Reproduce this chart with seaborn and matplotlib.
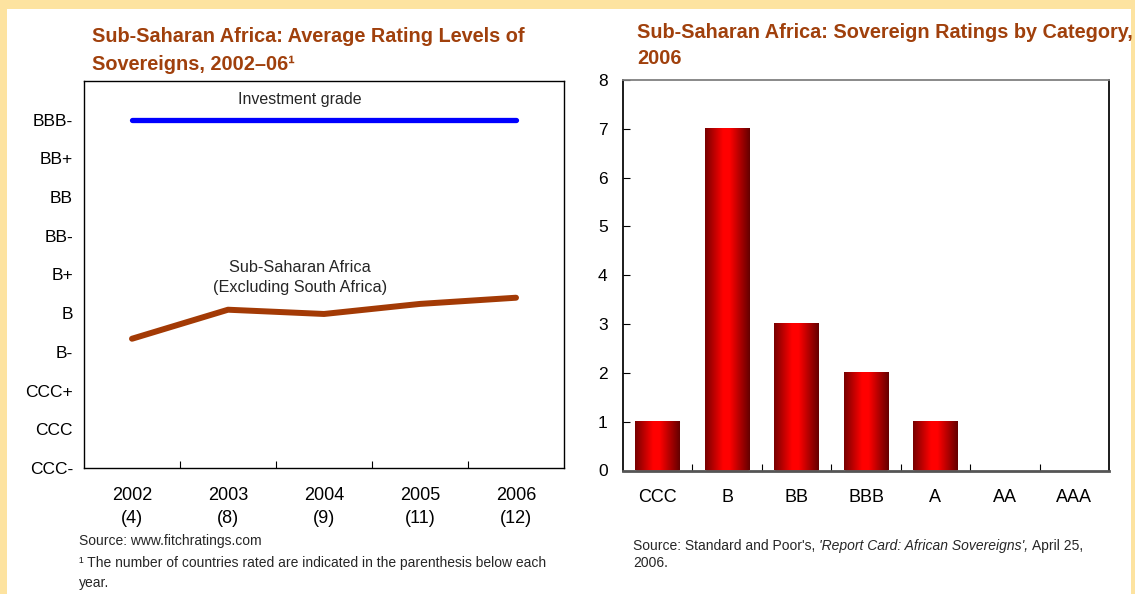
import seaborn as sns
import matplotlib.pyplot as plt
import pandas as pd
import numpy as np
from matplotlib.patches import Rectangle
from matplotlib.colors import LinearSegmentedColormap

# left panel: average rating levels (CCC- = 1 ... BBB- = 10)
years = ['2002', '2003', '2004', '2005', '2006']
n_rated = [4, 8, 9, 11, 12]
ssa_avg = [4.34, 5.09, 4.98, 5.24, 5.40]
invest_grade = [10, 10, 10, 10, 10]
rating_levels = ['CCC-', 'CCC', 'CCC+', 'B-', 'B', 'B+', 'BB-', 'BB', 'BB+', 'BBB-']

# right panel: number of sovereigns by category
categories = ['CCC', 'B', 'BB', 'BBB', 'A', 'AA', 'AAA']
counts = [1, 7, 3, 2, 1, 0, 0]

W, H = 1135, 594
title_col = '#A0400C'

sns.set_theme(style='white')
plt.rcParams['font.family'] = ['Liberation Sans', 'DejaVu Sans']

fig = plt.figure(figsize=(W / 100, H / 100), dpi=100, facecolor='#FDE3A0')
fig.patches.append(Rectangle((7 / W, 0), (1131 - 7) / W, (H - 9) / H,
                             transform=fig.transFigure, facecolor='white',
                             edgecolor='none', zorder=-10))

# ---- left chart
ax1 = fig.add_axes([84 / W, 1 - 468 / H, 480 / W, 387 / H])
df_line = pd.DataFrame({'year': years, 'ssa': ssa_avg, 'ig': invest_grade})
sns.lineplot(data=df_line, x='year', y='ig', color='#0000FF', lw=3.8,
             solid_capstyle='round', ax=ax1)
sns.lineplot(data=df_line, x='year', y='ssa', color='#A33A05', lw=4.3,
             solid_capstyle='round', ax=ax1)
ax1.set_xlim(-0.5, 4.5)
ax1.set_ylim(1, 11)
ax1.set_yticks(range(1, 11), rating_levels)
ax1.set_xticks(range(len(years)), [f'{y}\n({n})' for y, n in zip(years, n_rated)])
ax1.set_xticks([0.5, 1.5, 2.5, 3.5], minor=True)
ax1.tick_params(axis='y', length=0, pad=8, labelsize=12.5, colors='black')
ax1.tick_params(axis='x', which='major', length=0, pad=14, labelsize=13, colors='black')
ax1.tick_params(axis='x', which='minor', direction='in', length=5, width=0.8,
                color='black', bottom=True)
for lab in ax1.get_xticklabels():
    lab.set_linespacing(1.4)
ax1.set_xlabel('')
ax1.set_ylabel('')
for sp in ax1.spines.values():
    sp.set_color('black')
    sp.set_linewidth(1)
ax1.text(1.75, 10.52, 'Investment grade', ha='center', va='center', fontsize=11.5)
ax1.text(1.75, 5.93, 'Sub-Saharan Africa\n(Excluding South Africa)', ha='center',
         va='center', fontsize=11.7, linespacing=1.4)

# ---- right chart
ax2 = fig.add_axes([623 / W, 1 - 470.5 / H, 486 / W, 390.5 / H])
df_bar = pd.DataFrame({'category': categories, 'count': counts})
sns.barplot(data=df_bar, x='category', y='count', color='#FF0000', width=0.64,
            ax=ax2)
cmap = LinearSegmentedColormap.from_list(
    'cyl', [(0, '#780000'), (0.4, '#FF0000'), (0.55, '#FF0000'), (1, '#640000')])
grad = np.linspace(0, 1, 128).reshape(1, -1)
for bar in ax2.patches:
    h = bar.get_height()
    if h > 0:
        x0 = bar.get_x()
        ax2.imshow(grad, extent=(x0, x0 + bar.get_width(), 0, h), aspect='auto',
                   cmap=cmap, zorder=3)
ax2.set_xlim(-0.5, 6.5)
ax2.set_ylim(0, 8)
ax2.set_yticks(range(0, 9))
ax2.set_xticks([0.5, 1.5, 2.5, 3.5, 4.5, 5.5], minor=True)
ax2.tick_params(axis='y', left=True, direction='in', length=5, width=0.8,
                pad=11, labelsize=12.5, colors='black')
ax2.tick_params(axis='x', which='major', length=0, pad=13, labelsize=13,
                colors='black')
ax2.tick_params(axis='x', which='minor', direction='in', length=5, width=0.8,
                color='black', bottom=True)
ax2.set_xlabel('')
ax2.set_ylabel('')
ax2.spines['left'].set_color('black')
ax2.spines['right'].set_color('black')
ax2.spines['top'].set_color('#808080')
ax2.spines['top'].set_linewidth(1.3)
ax2.spines['bottom'].set_color('#555555')
ax2.spines['bottom'].set_linewidth(2)

# ---- titles and notes
fig.text(92 / W, 1 - 37 / H, 'Sub-Saharan Africa: Average Rating Levels of',
         fontsize=14.3, weight='bold', color=title_col, va='center')
fig.text(92 / W, 1 - 64 / H, 'Sovereigns, 2002\u201306\u00b9',
         fontsize=14.3, weight='bold', color=title_col, va='center')
fig.text(637 / W, 1 - 33 / H, 'Sub-Saharan Africa: Sovereign Ratings by Category,',
         fontsize=14.3, weight='bold', color=title_col, va='center')
fig.text(637 / W, 1 - 58 / H, '2006',
         fontsize=14.3, weight='bold', color=title_col, va='center')

fs_note = 10
fig.text(79 / W, 1 - 541 / H, 'Source: www.fitchratings.com', fontsize=fs_note,
         va='center')
fig.text(79 / W, 1 - 563 / H,
         '\u00b9 The number of countries rated are indicated in the parenthesis below each',
         fontsize=fs_note, va='center')
fig.text(79 / W, 1 - 583 / H, 'year.', fontsize=fs_note, va='center')

t = fig.text(633 / W, 1 - 546 / H, "Source: Standard and Poor's, ", fontsize=fs_note,
             va='center')
fig.canvas.draw()
bb = t.get_window_extent()
t2 = fig.text(bb.x1 / W, 1 - 546 / H, "'Report Card: African Sovereigns',",
              fontsize=fs_note, va='center', style='italic')
bb2 = t2.get_window_extent()
fig.text(bb2.x1 / W + 4 / W, 1 - 546 / H, 'April 25,', fontsize=fs_note, va='center')
fig.text(633 / W, 1 - 563 / H, '2006.', fontsize=fs_note, va='center')

plt.savefig('out.png', dpi=100, facecolor=fig.get_facecolor())
